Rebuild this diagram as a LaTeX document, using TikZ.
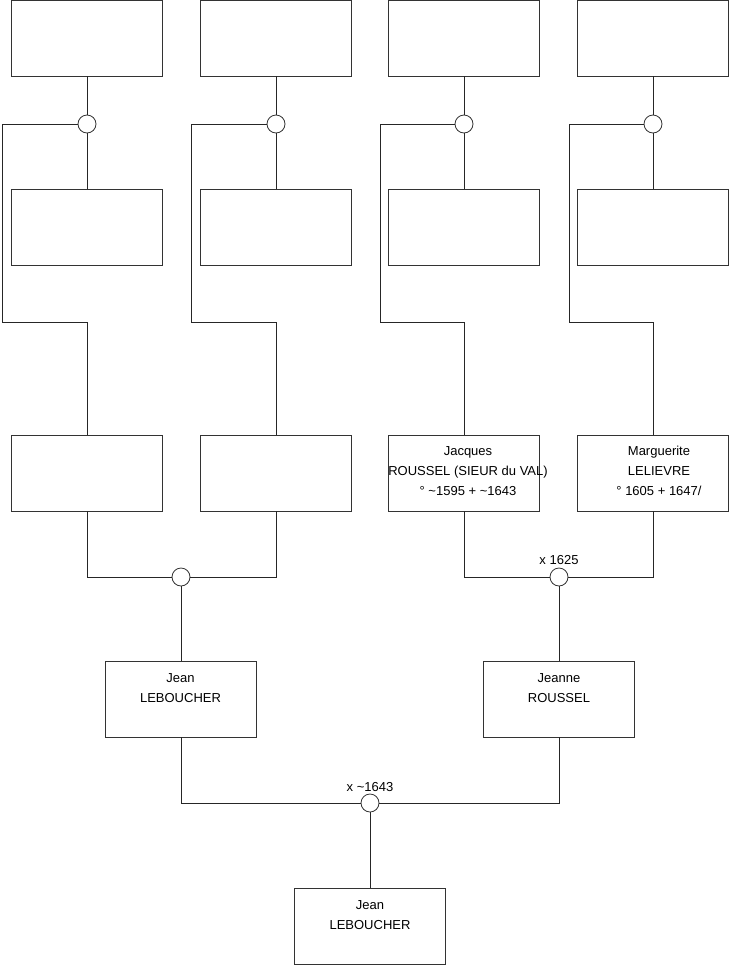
\documentclass[tikz,border=0pt]{standalone}
\usepackage{fontspec}
\setmainfont{Liberation Sans}
\begin{document}
\begin{tikzpicture}[x=1pt,y=-1pt,
  person/.style={draw=black!80,line width=0.8pt,rectangle,minimum width=151pt,minimum height=76pt,inner sep=0pt},
  union/.style={draw=black!80,line width=0.8pt,circle,fill=white,minimum size=18pt,inner sep=0pt},
  ptext/.style={anchor=north,align=center,font=\fontsize{13}{20}\selectfont,inner sep=0pt},
  lbl/.style={font=\fontsize{13}{15}\selectfont,inner sep=0pt},
  conn/.style={draw=black!85,line width=0.8pt}]
\useasboundingbox (0,0) rectangle (740,975);
% top row
\node[person] (t1) at (87,38) {};
\node[person] (t2) at (276,38) {};
\node[person] (t3) at (464,38) {};
\node[person] (t4) at (653,38) {};
% second row
\node[person] (s1) at (87,227) {};
\node[person] (s2) at (276,227) {};
\node[person] (s3) at (464,227) {};
\node[person] (s4) at (653,227) {};
% top unions
\node[union] (c1) at (87,124) {};
\node[union] (c2) at (276,124) {};
\node[union] (c3) at (464,124) {};
\node[union] (c4) at (653,124) {};
% third row
\node[person] (m1) at (87,473) {};
\node[person] (m2) at (276,473) {};
\node[person] (m3) at (464,473) {};
\node[person] (m4) at (653,473) {};
\node[ptext] at (468,446) {Jacques\\ROUSSEL (SIEUR du VAL)\\° \textasciitilde1595 + \textasciitilde1643};
\node[ptext] at (659,446) {Marguerite\\LELIEVRE\\° 1605 + 1647/};
% middle unions
\node[union] (u1) at (181,577) {};
\node[union] (u2) at (559,577) {};
\node[lbl,anchor=south] at (559,565) {x 1625};
% parents
\node[person] (p1) at (181,699) {};
\node[person] (p2) at (559,699) {};
\node[ptext] at (180.5,673) {Jean\\LEBOUCHER};
\node[ptext] at (559,673) {Jeanne\\ROUSSEL};
% bottom union
\node[union] (u3) at (370,803) {};
\node[lbl,anchor=south] at (370,792) {x \textasciitilde1643};
% child
\node[person] (k) at (370,926) {};
\node[ptext] at (370,900) {Jean\\LEBOUCHER};
% connectors top groups
\draw[conn] (t1.south) -- (c1.north);
\draw[conn] (c1.south) -- (s1.north);
\draw[conn] (c1.west) -- (2,124) |- (87,322) -- (m1.north);
\draw[conn] (t2.south) -- (c2.north);
\draw[conn] (c2.south) -- (s2.north);
\draw[conn] (c2.west) -- (191,124) |- (276,322) -- (m2.north);
\draw[conn] (t3.south) -- (c3.north);
\draw[conn] (c3.south) -- (s3.north);
\draw[conn] (c3.west) -- (380,124) |- (464,322) -- (m3.north);
\draw[conn] (t4.south) -- (c4.north);
\draw[conn] (c4.south) -- (s4.north);
\draw[conn] (c4.west) -- (569,124) |- (653,322) -- (m4.north);
% middle
\draw[conn] (m1.south) |- (u1.west);
\draw[conn] (m2.south) |- (u1.east);
\draw[conn] (u1.south) -- (p1.north);
\draw[conn] (m3.south) |- (u2.west);
\draw[conn] (m4.south) |- (u2.east);
\draw[conn] (u2.south) -- (p2.north);
% bottom
\draw[conn] (p1.south) |- (u3.west);
\draw[conn] (p2.south) |- (u3.east);
\draw[conn] (u3.south) -- (k.north);
\end{tikzpicture}
\end{document}
